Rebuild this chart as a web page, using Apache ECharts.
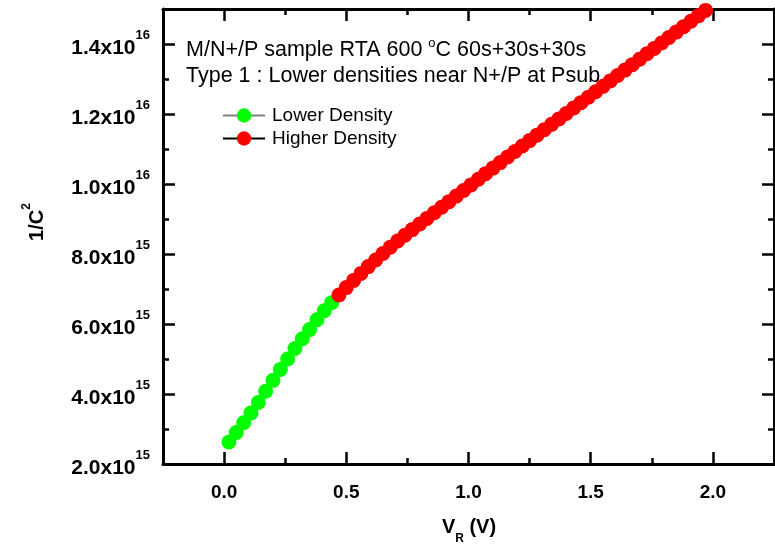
<!DOCTYPE html>
<html>
<head>
<meta charset="utf-8">
<script src="https://cdn.jsdelivr.net/npm/echarts@6/dist/echarts.min.js"></script>
<style>html,body{margin:0;padding:0;background:#fff}#c{width:775px;height:556px}</style>
</head>
<body>
<div id="c"></div>
<script>
// Reverse voltage (V) and 1/C^2 values
const vrLow = [0.02,0.05,0.08,0.11,0.14,0.17,0.20,0.23,0.26,0.29,0.32,0.35,0.38,0.41,0.44];
const invC2Low = [2.63e15,2.90e15,3.18e15,3.46e15,3.76e15,4.08e15,4.39e15,4.70e15,5.00e15,5.30e15,5.58e15,5.84e15,6.12e15,6.38e15,6.61e15];

const vrHigh = [0.47,0.50,0.53,0.56,0.59,0.62,0.65,0.68,0.71,0.74,0.77,0.80,0.83,0.86,0.89,0.92,0.95,0.98,1.01,1.04,1.07,1.10,1.13,1.16,1.19,1.22,1.25,1.28,1.31,1.34,1.37,1.40,1.43,1.46,1.49,1.52,1.55,1.58,1.61,1.64,1.67,1.70,1.73,1.76,1.79,1.82,1.85,1.88,1.91,1.94,1.97,2.00];
const invC2High = [6.83e15,7.04e15,7.245e15,7.445e15,7.64e15,7.83e15,8.015e15,8.195e15,8.37e15,8.535e15,8.697e15,8.857e15,9.017e15,9.177e15,9.335e15,9.495e15,9.655e15,9.815e15,9.975e15,1.0135e16,1.0295e16,1.0455e16,1.0612e16,1.077e16,1.0928e16,1.1085e16,1.124e16,1.1395e16,1.155e16,1.1705e16,1.186e16,1.2015e16,1.217e16,1.2325e16,1.248e16,1.2635e16,1.279e16,1.2945e16,1.31e16,1.3255e16,1.341e16,1.3565e16,1.372e16,1.3875e16,1.403e16,1.4185e16,1.434e16,1.4495e16,1.465e16,1.4805e16,1.496e16,1.5115e16];

const seriesNames = ['Lower Density','Higher Density'];
const xMajorTicks = [0, 0.5, 1.0, 1.5, 2.0];
const xMinorTicks = [0.25, 0.75, 1.25, 1.75];
const yMajorTicks = [2e15, 4e15, 6e15, 8e15, 1e16, 1.2e16, 1.4e16];
const yMinorTicks = [3e15, 5e15, 7e15, 9e15, 1.1e16, 1.3e16];

const FONT = 'Liberation Sans, Arial, sans-serif';
const xMin = -0.25, xMax = 2.25, yMin = 2e15, yMax = 1.5e16;

function pair(arrX, arrY){ return arrX.map((x,i)=>[x, arrY[i]]); }
function sciLabel(v){
  const e = Math.floor(Math.log10(v) + 1e-9);
  const m = v / Math.pow(10, e);
  return '{a|' + m.toFixed(1) + 'x10}{s|' + e + '}';
}

const lineBlack = {color:'#000', width:3};
const tickStyle = {color:'#000', width:2.5};

function xAx(pos, ticks, len, withLine, withLabel){
  return {
    type:'value', position:pos, min:xMin, max:xMax, gridIndex:0,
    axisLine:{show:withLine, onZero:false, lineStyle:lineBlack},
    axisTick:{show:true, inside:true, length:len, customValues:ticks, lineStyle:tickStyle},
    axisLabel:{show:withLabel, customValues:ticks, margin:19,
      formatter:(v)=>v.toFixed(1),
      fontFamily:FONT, fontWeight:'bold', fontSize:19, color:'#000'},
    splitLine:{show:false}
  };
}
function yAx(pos, ticks, len, withLine, withLabel){
  return {
    type:'value', position:pos, min:yMin, max:yMax, gridIndex:0,
    axisLine:{show:withLine, onZero:false, lineStyle:lineBlack},
    axisTick:{show:true, inside:true, length:len, customValues:ticks, lineStyle:tickStyle},
    axisLabel:{show:withLabel, customValues:ticks, margin:13,
      formatter:sciLabel,
      rich:{
        a:{fontFamily:FONT, fontWeight:'bold', fontSize:21, color:'#000', lineHeight:30, verticalAlign:'bottom'},
        s:{fontFamily:FONT, fontWeight:'bold', fontSize:13, color:'#000', lineHeight:30, verticalAlign:'top'}
      }},
    splitLine:{show:false}
  };
}

const chart = echarts.init(document.getElementById('c'), null, {renderer:'canvas'});
chart.setOption({
  animation:false,
  backgroundColor:'#fff',
  grid:{left:163, right:1, top:9, bottom:92, containLabel:false},
  xAxis:[
    xAx('bottom', xMajorTicks, 12, true, true),
    xAx('bottom', xMinorTicks, 6, false, false),
    xAx('top', xMajorTicks, 12, true, false),
    xAx('top', xMinorTicks, 6, false, false)
  ],
  yAxis:[
    yAx('left', yMajorTicks, 12, true, true),
    yAx('left', yMinorTicks, 6, false, false),
    yAx('right', yMajorTicks, 12, true, false),
    yAx('right', yMinorTicks, 6, false, false)
  ],
  legend:{
    orient:'vertical', left:222, top:106, itemWidth:42, itemHeight:18, itemGap:4, padding:0,
    data:seriesNames,
    textStyle:{fontFamily:FONT, fontSize:19, color:'#000', padding:[0,0,0,2]}
  },
  graphic:[
    {type:'text', left:186, top:37, style:{
      text:'M/N+/P sample RTA 600 {s|o}C 60s+30s+30s',
      font:'21.5px Liberation Sans', fill:'#000',
      rich:{s:{fontSize:13, fontFamily:FONT, verticalAlign:'top', lineHeight:26}}
    }},
    {type:'text', left:186, top:65, style:{
      text:'Type 1 : Lower densities near N+/P at Psub',
      font:'21.5px Liberation Sans', fill:'#000'
    }},
    {type:'text', x:34, y:222, rotation:Math.PI/2, style:{
      text:'{a|1/C}{s|2}', align:'center', verticalAlign:'middle',
      rich:{
        a:{fontFamily:FONT, fontWeight:'bold', fontSize:20, fill:'#000', lineHeight:26, verticalAlign:'bottom'},
        s:{fontFamily:FONT, fontWeight:'bold', fontSize:12, fill:'#000', lineHeight:26, verticalAlign:'top'}
      }
    }},
    {type:'text', x:469, y:531, style:{
      text:'{a|V}{b|R}{a| (V)}', align:'center', verticalAlign:'middle',
      rich:{
        a:{fontFamily:FONT, fontWeight:'bold', fontSize:20, fill:'#000', lineHeight:28, verticalAlign:'top'},
        b:{fontFamily:FONT, fontWeight:'bold', fontSize:12, fill:'#000', lineHeight:28, verticalAlign:'bottom'}
      }
    }}
  ],
  series:[
    {name:seriesNames[0], type:'line', xAxisIndex:0, yAxisIndex:0, data:pair(vrLow, invC2Low),
      symbol:'circle', symbolSize:15, showAllSymbol:true,
      lineStyle:{color:'#808080', width:1.5}, itemStyle:{color:'#00ff00'}},
    {name:seriesNames[1], type:'line', xAxisIndex:0, yAxisIndex:0, data:pair(vrHigh, invC2High),
      symbol:'circle', symbolSize:15, showAllSymbol:true,
      lineStyle:{color:'#000', width:1.5}, itemStyle:{color:'#ff0000'}}
  ]
});
</script>
</body>
</html>
